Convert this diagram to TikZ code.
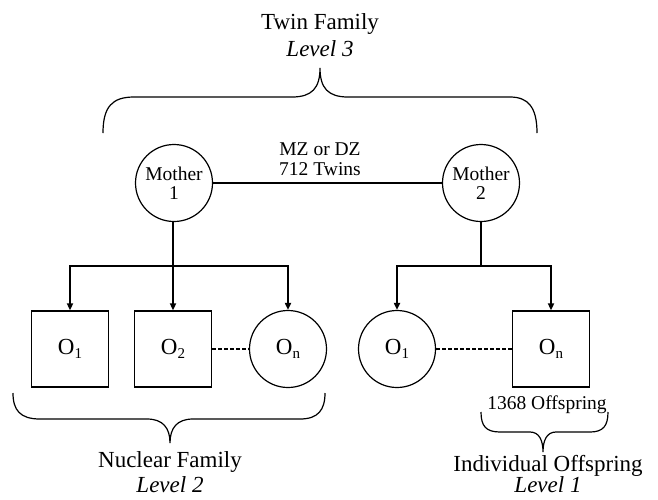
\documentclass[tikz,border=0pt]{standalone}
\usepackage{fontspec}
\setmainfont{Liberation Serif}
\usetikzlibrary{arrows.meta}
\newcommand{\bigf}{\fontsize{23}{27}\selectfont}
\newcommand{\smallf}{\fontsize{19.5}{21}\selectfont}
\newcommand{\Osub}[1]{O\raisebox{-4.5pt}{\fontsize{15}{15}\selectfont #1}}
\tikzset{
  person/.style={draw, line width=1.2pt, circle, minimum size=77pt, inner sep=0pt, align=center, font=\smallf},
  offbox/.style={draw, line width=1.3pt, rectangle, minimum width=77pt, minimum height=76pt, inner sep=0pt, font=\bigf},
  offcirc/.style={draw, line width=1.2pt, circle, minimum size=77pt, inner sep=0pt, font=\bigf},
  link/.style={line width=1.8pt, -{Triangle[length=7pt,width=6pt]}},
  trunk/.style={line width=1.8pt},
  dots/.style={line width=1.5pt, dash pattern=on 4pt off 2pt},
  brace/.style={line width=1.2pt},
  lbl/.style={anchor=base, inner sep=0pt}
}
\begin{document}
\begin{tikzpicture}[x=1pt,y=-1pt]
\useasboundingbox (0,0) rectangle (658,499);
% titles
\node[lbl, font=\bigf] (tf) at (320,29) {Twin Family};
\node[lbl, font=\bigf\itshape] (l3) at (320,56) {Level 3};
% top brace
\draw[brace] (103,133) .. controls (103,107) and (112,97) .. (134,97) -- (292,97)
  .. controls (312,97) and (320,88) .. (320,68)
  .. controls (320,88) and (328,97) .. (348,97) -- (510,97)
  .. controls (528,97) and (537,107) .. (537,133);
% mothers
\node[person] (m1) at (174,183) {Mother\\[-2pt]1};
\node[person] (m2) at (481,183) {Mother\\[-2pt]2};
\draw[line width=1.2pt] (m1) -- (m2);
\node[lbl, font=\smallf] (mz) at (320,155) {MZ or DZ};
\node[lbl, font=\smallf] (tw) at (320,175) {712 Twins};
% offspring
\node[offbox] (a1) at (70,349) {\Osub{1}};
\node[offbox] (a2) at (173,349) {\Osub{2}};
\node[offcirc] (a3) at (288,349) {\Osub{n}};
\node[offcirc] (b1) at (397,349) {\Osub{1}};
\node[offbox] (b2) at (551,349) {\Osub{n}};
% connectors
\coordinate (j1) at (173,266);
\coordinate (j2) at (481,266);
\draw[link] (m1.south -| a2) -- (a2);
\draw[link] (j1) -| (a1);
\draw[link] (j1) -| (a3);
\draw[trunk] (m2) -- (j2);
\draw[link] (j2) -| (b1);
\draw[link] (j2) -| (b2);
\draw[dots] (a2) -- (a3);
\draw[dots] (b1) -- (b2);
% bottom left brace
\draw[brace] (13,393) .. controls (13,410) and (20,419) .. (40,419) -- (147,419)
  .. controls (163,419) and (170,428) .. (170,443)
  .. controls (170,428) and (177,419) .. (193,419) -- (300,419)
  .. controls (318,419) and (325,410) .. (325,393);
\node[lbl, font=\bigf] (nf) at (170,467) {Nuclear Family};
\node[lbl, font=\bigf\itshape] (l2) at (170,492) {Level 2};
% right small brace
\node[lbl, font=\smallf] (os) at (547,409) {1368 Offspring};
\draw[brace] (481,412) .. controls (481,426) and (486,432) .. (500,432) -- (530,432)
  .. controls (539,432) and (543,440) .. (543,452)
  .. controls (543,440) and (547,432) .. (556,432) -- (590,432)
  .. controls (603,432) and (608,426) .. (608,412);
\node[lbl, font=\bigf] (io) at (548,471) {Individual Offspring};
\node[lbl, font=\bigf\itshape] (l1) at (548,492) {Level 1};
\end{tikzpicture}
\end{document}
